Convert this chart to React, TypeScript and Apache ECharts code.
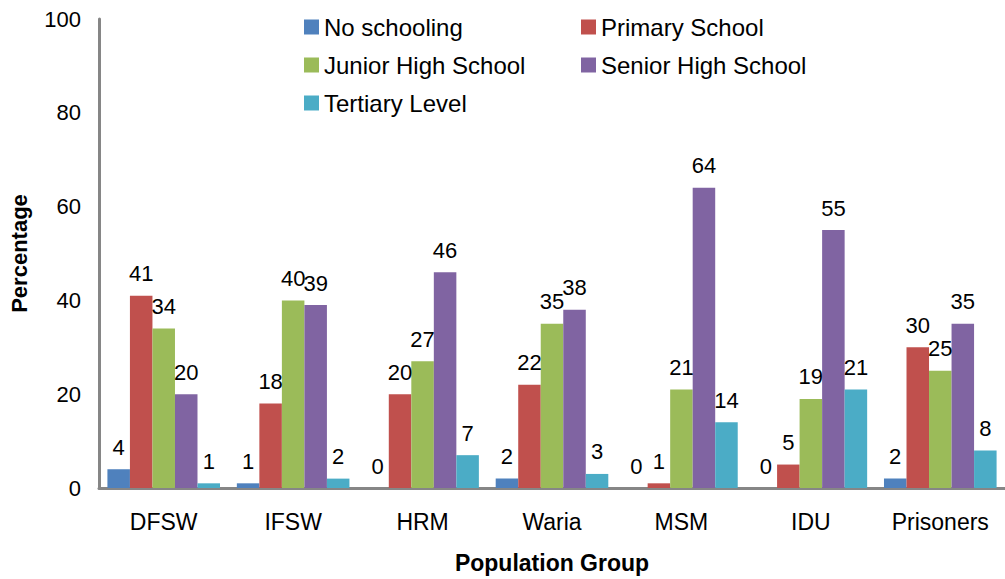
import React, { useEffect, useRef } from "react";
import * as echarts from "echarts";

const categories = ["DFSW", "IFSW", "HRM", "Waria", "MSM", "IDU", "Prisoners"];
const seriesNames = ["No schooling", "Primary School", "Junior High School", "Senior High School", "Tertiary Level"];
const noSchooling = [4, 1, 0, 2, 0, 0, 2];
const primarySchool = [41, 18, 20, 22, 1, 5, 30];
const juniorHigh = [34, 40, 27, 35, 21, 19, 25];
const seniorHigh = [20, 39, 46, 38, 64, 55, 35];
const tertiary = [1, 2, 7, 3, 14, 21, 8];
const yTicks = [0, 20, 40, 60, 80, 100];

const colors = ["#4F81BD", "#C0504D", "#9BBB59", "#8064A2", "#4BACC6"];
const FONT = "Liberation Sans, Arial, sans-serif";

export default function App() {
  const ref = useRef<HTMLDivElement>(null);
  useEffect(() => {
    if (!ref.current) return;
    const chart = echarts.init(ref.current, null, { renderer: "svg" });
    const allData = [noSchooling, primarySchool, juniorHigh, seniorHigh, tertiary];
    const legendCommon = {
      orient: "vertical",
      top: 15,
      padding: 0,
      itemWidth: 15,
      itemHeight: 15,
      itemGap: 14,
      icon: "rect",
      textStyle: { fontSize: 24, color: "#000", fontFamily: FONT },
    };
    chart.setOption({
      animation: false,
      color: colors,
      textStyle: { fontFamily: FONT },
      legend: [
        { ...legendCommon, data: [seriesNames[0], seriesNames[2], seriesNames[4]], left: 304 },
        { ...legendCommon, data: [seriesNames[1], seriesNames[3]], left: 581 },
      ],
      grid: { left: 99, right: -12, top: 19, bottom: 83, containLabel: false },
      xAxis: {
        type: "category",
        data: categories,
        name: "Population Group",
        nameLocation: "middle",
        nameGap: 63,
        nameTextStyle: { fontSize: 23, fontWeight: "bold", color: "#000", fontFamily: FONT },
        axisLine: { lineStyle: { color: "#868686", width: 3 } },
        axisTick: { show: false },
        axisLabel: { fontSize: 23, color: "#000", margin: 22, fontFamily: FONT },
      },
      yAxis: {
        type: "value",
        min: yTicks[0],
        max: yTicks[yTicks.length - 1],
        interval: 20,
        name: "Percentage",
        nameLocation: "middle",
        nameRotate: 90,
        nameGap: 69,
        nameTextStyle: { fontSize: 22, fontWeight: "bold", color: "#000", fontFamily: FONT },
        axisLine: { show: true, lineStyle: { color: "#868686", width: 3 } },
        axisTick: { show: false },
        splitLine: { show: false },
        axisLabel: { fontSize: 22, color: "#000", margin: 18, fontFamily: FONT },
      },
      series: seriesNames.map((name, i) => ({
        name,
        type: "bar",
        data: allData[i],
        barGap: "0%",
        barCategoryGap: "13%",
        label: {
          show: true,
          position: "top",
          distance: 11,
          fontSize: 22,
          color: "#000",
          fontFamily: FONT,
        },
      })),
    });
    return () => chart.dispose();
  }, []);
  return (
    <div
      ref={ref}
      style={{ position: "fixed", left: 0, top: 0, width: 1005, height: 579, background: "#fff" }}
    />
  );
}
